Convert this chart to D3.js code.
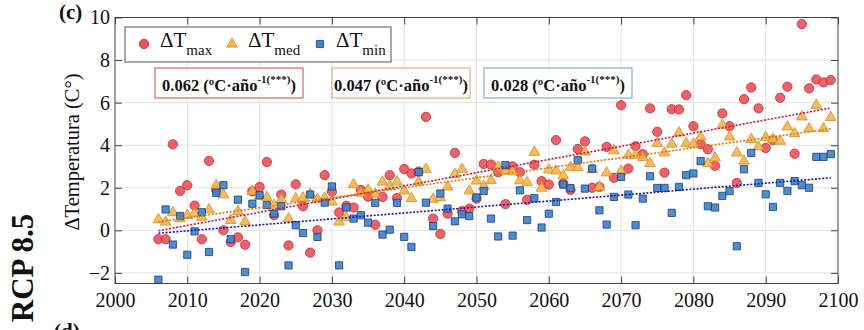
<!DOCTYPE html>
<html>
<head>
<meta charset="utf-8">
<script src="https://d3js.org/d3.v7.min.js"></script>
<title>RCP 8.5 - anomalías de temperatura</title>
<style>
  body { margin: 0; padding: 0; background: #fff; }
  svg { display: block; font-family: "Liberation Serif", "Times New Roman", serif; }
</style>
</head>
<body>
<svg id="chart" width="864" height="330"></svg>
<script>
// años simulados 2006-2099
var years = d3.range(2006, 2100);

// anomalía de temperatura máxima (ºC)
var tMax = [
  -0.42, -0.42, 4.04, 1.85, 2.12, 1.16, -0.42, 3.26, 1.90, 0.00,
  -0.55, -0.33, -0.68, 1.83, 2.04, 3.21, 0.71, 1.68, -0.71, 2.16,
  1.13, -1.05, 0.00, 2.59, 1.82, 0.84, 1.15, 1.07, 1.90, 1.58,
  0.26, 1.57, 2.59, 1.52, 2.88, 2.67, 2.76, 5.33, 0.55, -0.17,
  0.78, 3.64, 0.90, 1.02, 1.49, 3.12, 3.09, 2.73, 1.23, 3.00,
  2.73, 1.43, 3.08, 2.31, 2.15, 4.24, 2.20, 1.90, 3.82, 4.18,
  2.00, 2.04, 3.92, 2.47, 5.88, 2.90, 3.95, 3.58, 5.73, 4.63,
  2.71, 5.69, 5.68, 6.35, 4.89, 4.05, 3.81, 3.03, 5.49, 4.89,
  2.23, 6.16, 6.71, 5.73, 3.87, 4.24, 6.23, 6.75, 3.60, 9.69,
  6.67, 7.09, 6.95, 7.06
];

// anomalía de temperatura media (ºC)
var tMed = [
  0.50, 0.39, 0.83, 0.55, 0.70, 0.78, 0.62, 0.97, 2.12, 1.67,
  0.47, 0.88, 0.40, 1.83, 1.60, 1.55, 1.18, 1.44, 0.55, 1.49,
  1.52, 1.70, 1.46, 1.52, 1.33, 0.39, 0.60, 2.15, 1.75, 1.90,
  1.70, 2.27, 2.07, 2.27, 1.85, 1.49, 2.27, 2.87, 1.46, 1.54,
  2.04, 2.63, 2.87, 1.85, 2.32, 2.07, 2.35, 2.97, 2.80, 2.75,
  2.33, 2.24, 3.67, 1.98, 2.84, 2.79, 2.57, 2.96, 2.95, 3.69,
  2.85, 2.04, 2.70, 3.74, 2.78, 3.53, 3.53, 3.42, 3.14, 4.08,
  3.64, 4.05, 4.58, 4.08, 4.05, 4.39, 3.14, 3.40, 4.94, 4.39,
  3.64, 3.25, 4.27, 3.92, 4.36, 4.27, 4.19, 4.86, 4.55, 5.33,
  4.78, 5.88, 4.78, 5.30
];

// anomalía de temperatura mínima (ºC)
var tMin = [
  -2.32, 0.98, -0.67, 0.67, -1.15, -0.05, 0.85, -1.02, 1.76, 2.12,
  -0.42, 1.44, -1.96, 1.25, 1.65, 1.18, 0.78, 1.13, -1.65, 0.24,
  -0.13, 1.68, -0.31, 1.30, 2.06, -1.65, 1.07, 0.55, 0.71, 0.36,
  1.29, -0.20, 0.03, 1.29, -0.31, -0.78, 2.73, 1.30, 0.20, 1.73,
  1.02, 0.42, 0.75, 0.67, 1.54, 1.85, 0.55, -0.29, 3.06, -0.25,
  1.88, 0.48, 1.51, 0.13, 0.78, 1.33, 2.15, 1.98, 3.29, 1.96,
  2.90, 0.94, 0.27, 1.57, 2.51, 1.68, 0.24, 1.49, 2.54, 1.99,
  1.99, 0.82, 2.04, 2.59, 2.67, 3.25, 1.13, 1.07, 1.62, 1.84,
  -0.75, 2.87, 3.64, 2.23, 1.69, 1.10, 2.23, 1.85, 2.31, 2.12,
  2.00, 3.45, 3.45, 3.58
];

// tendencias (ºC·año-1)
var slopes = [0.062, 0.047, 0.028];
var seriesNames = ["max", "med", "min"];

var xTicks = d3.range(2000, 2101, 10);
var yTicks = [-2, 0, 2, 4, 6, 8, 10];

var series = [
  { sub: seriesNames[0], values: tMax, slope: slopes[0], shape: d3.symbolCircle, size: 68,
    fill: "#f0525a", stroke: "#b8323a", line: "#cc1440", box: "#c0504d", boxX: [155, 303] },
  { sub: seriesNames[1], values: tMed, slope: slopes[1], shape: d3.symbolTriangle, size: 50,
    fill: "#f6b54a", stroke: "#cf8d2c", line: "#e07a00", box: "#d9a05b", boxX: [332, 470] },
  { sub: seriesNames[2], values: tMin, slope: slopes[2], shape: d3.symbolSquare, size: 52,
    fill: "#3c84d4", stroke: "#1d3c6c", line: "#1414b4", box: "#6e9ccc", boxX: [484, 632] }
];

var svg = d3.select("#chart");
var plotL = 115, plotR = 838, plotT = 17.5, plotB = 283.5;

var x = d3.scaleLinear().domain([2000, 2100]).range([plotL, plotR]);
var y = d3.scaleLinear().domain([-2.5, 10]).range([plotB, plotT]);

// rejilla
var grid = svg.append("g").attr("stroke", "#e3e3e3").attr("stroke-width", 1);
grid.selectAll(".gx").data(xTicks.slice(1, -1)).enter().append("line")
  .attr("x1", d => x(d)).attr("x2", d => x(d)).attr("y1", plotT).attr("y2", plotB);
grid.selectAll(".gy").data(yTicks).enter().append("line")
  .attr("y1", d => y(d)).attr("y2", d => y(d)).attr("x1", plotL).attr("x2", plotR);

// ejes con marcas hacia dentro en los cuatro lados
var tickLen = 7;
svg.append("g").attr("transform", "translate(0," + plotB + ")")
  .call(d3.axisBottom(x).tickValues(xTicks).tickSizeInner(-tickLen).tickSizeOuter(0).tickPadding(9).tickFormat(d3.format("d")));
svg.append("g").attr("transform", "translate(0," + plotT + ")")
  .call(d3.axisTop(x).tickValues(xTicks).tickSizeInner(-tickLen).tickSizeOuter(0).tickFormat(""));
svg.append("g").attr("transform", "translate(" + plotL + ",0)")
  .call(d3.axisLeft(y).tickValues(yTicks).tickSizeInner(-tickLen).tickSizeOuter(0).tickPadding(5));
svg.append("g").attr("transform", "translate(" + plotR + ",0)")
  .call(d3.axisRight(y).tickValues(yTicks).tickSizeInner(-tickLen).tickSizeOuter(0).tickFormat(""));

svg.selectAll(".domain").remove();
svg.selectAll(".tick line").attr("stroke", "#444");
svg.selectAll(".tick text").attr("font-size", 20).attr("fill", "#111")
  .attr("font-family", "Liberation Serif, Times New Roman, serif");

svg.append("rect").attr("x", plotL).attr("y", plotT)
  .attr("width", plotR - plotL).attr("height", plotB - plotT)
  .attr("fill", "none").attr("stroke", "#444").attr("stroke-width", 1);

// puntos: max, med, min
var sym = d3.symbol();
series.forEach(function (s) {
  svg.append("g").selectAll("path").data(years).enter().append("path")
    .attr("transform", (d, i) => "translate(" + x(d) + "," + y(s.values[i]) + ")")
    .attr("d", sym.type(s.shape).size(s.size)())
    .attr("fill", s.fill).attr("fill-opacity", 0.92)
    .attr("stroke", s.stroke).attr("stroke-width", 0.8);
});

// rectas de tendencia (pendiente indicada, ajustada a la media)
var meanYear = d3.mean(years);
series.forEach(function (s) {
  var b = d3.mean(s.values) - s.slope * meanYear;
  var ends = [years[0], years[years.length - 1]];
  svg.append("path")
    .datum(ends)
    .attr("d", d3.line().x(d => x(d)).y(d => y(b + s.slope * d)))
    .attr("fill", "none").attr("stroke", s.line)
    .attr("stroke-width", 1.6).attr("stroke-dasharray", "2,1.6");
});

// leyenda
var legend = svg.append("g");
legend.append("rect").attr("x", 125).attr("y", 27).attr("width", 266).attr("height", 35)
  .attr("fill", "#fff").attr("stroke", "#555").attr("stroke-width", 1);
var legendX = [144, 232, 320];
series.forEach(function (s, i) {
  legend.append("path")
    .attr("transform", "translate(" + legendX[i] + ",44)")
    .attr("d", sym.type(s.shape).size(s.size)())
    .attr("fill", s.fill).attr("stroke", s.stroke).attr("stroke-width", 0.8);
  var t = legend.append("text").attr("x", legendX[i] + 16).attr("y", 47)
    .attr("font-size", 21).attr("fill", "#111");
  t.append("tspan").text("ΔT");
  t.append("tspan").attr("dy", 8).attr("font-size", 15).text(s.sub);
});

// recuadros con la pendiente
var fmt = d3.format(".3f");
series.forEach(function (s) {
  var x0 = s.boxX[0], x1 = s.boxX[1];
  svg.append("rect").attr("x", x0).attr("y", 68).attr("width", x1 - x0).attr("height", 30)
    .attr("fill", "#fff").attr("stroke", s.box).attr("stroke-width", 1);
  var t = svg.append("text").attr("x", (x0 + x1) / 2).attr("y", 91)
    .attr("text-anchor", "middle").attr("font-weight", "bold").attr("font-size", 16.5).attr("fill", "#111");
  t.append("tspan").text(fmt(s.slope) + " (ºC·año");
  t.append("tspan").attr("dy", -8).attr("font-size", 11).text("-1(***)");
  t.append("tspan").attr("dy", 8).text(")");
});

// títulos
svg.append("text")
  .attr("transform", "translate(79,152) rotate(-90)")
  .attr("text-anchor", "middle").attr("font-size", 20.5).attr("fill", "#111")
  .text("ΔTemperatura (C°)");

svg.append("text").attr("x", 59).attr("y", 19)
  .attr("font-weight", "bold").attr("font-size", 21).attr("fill", "#111").text("(c)");
svg.append("text").attr("x", 54).attr("y", 338)
  .attr("font-weight", "bold").attr("font-size", 21).attr("fill", "#111").text("(d)");

svg.append("text")
  .attr("transform", "translate(33,268) rotate(-90)")
  .attr("text-anchor", "middle").attr("font-weight", "bold").attr("font-size", 31).attr("fill", "#111")
  .text("RCP 8.5");
</script>
</body>
</html>
